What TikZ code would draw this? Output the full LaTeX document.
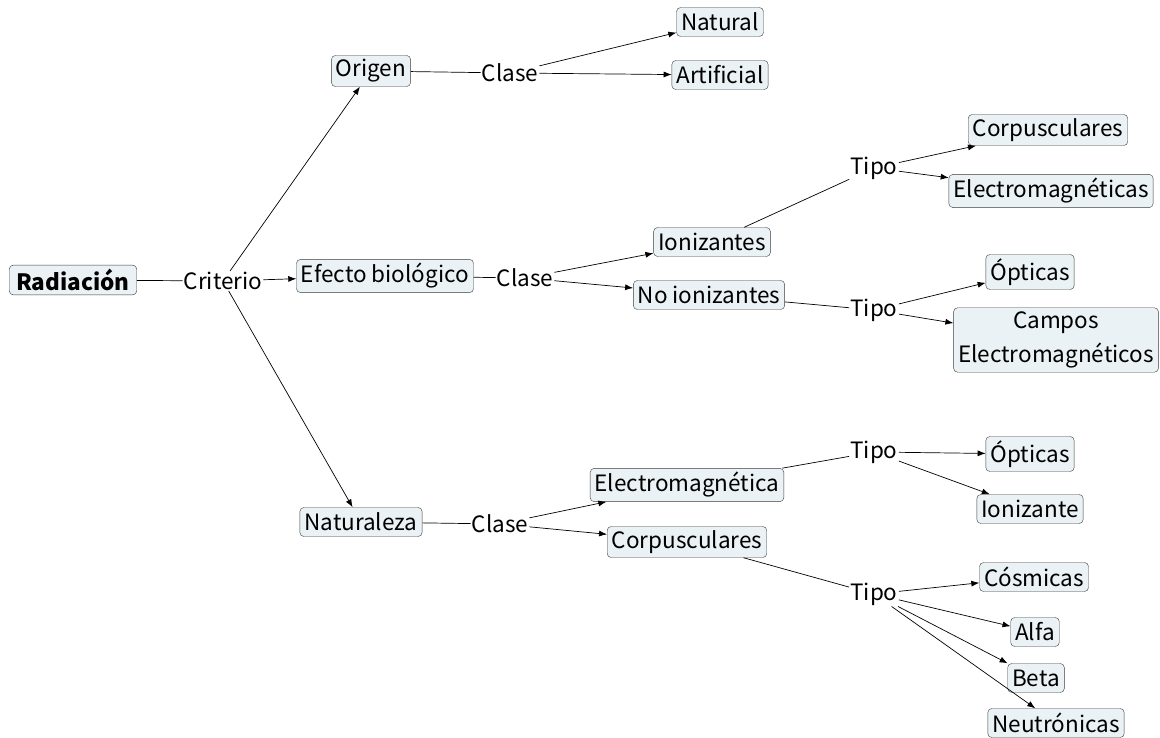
\documentclass[tikz,border=0pt]{standalone}
\usepackage{fontspec}
\setmainfont{Noto Sans CJK JP}
\usetikzlibrary{arrows.meta}

\definecolor{conceptfill}{HTML}{EBF2F5}
\definecolor{conceptline}{HTML}{3C3C3C}
\tikzset{
  concept/.style={draw=conceptline,fill=conceptfill,rounded corners=4pt,inner xsep=4.5pt,inner ysep=4pt,minimum height=29pt,font=\fontsize{22.5}{34}\selectfont,align=center},
  phrase/.style={inner sep=1pt,font=\fontsize{22.5}{34}\selectfont},
  link/.style={draw=black,line width=0.7pt},
  arrowlink/.style={link,-{Latex[length=8pt,width=6pt]}}
}

\begin{document}
\begin{tikzpicture}[x=1pt,y=-1pt]
    \useasboundingbox (0,0) rectangle (1160,738);
    \node[concept,inner xsep=7pt] (Rad) at (73,280) {\textbf{Radiación}};
    \node[phrase] (Crit) at (223,281) {Criterio};
    % origen
    \node[concept] (Ori) at (371,71) {Origen};
    \node[phrase] (C1) at (510,73) {Clase};
    \node[concept] (Nat) at (720,22) {Natural};
    \node[concept] (Art) at (720,75) {Artificial};
    % efecto biologico
    \node[concept] (Efe) at (385,276) {Efecto biológico};
    \node[phrase] (C2) at (525,278) {Clase};
    \node[concept] (Ion) at (712,242) {Ionizantes};
    \node[concept] (NoIon) at (709,295) {No ionizantes};
    \node[phrase] (T1) at (874,168) {Tipo};
    \node[concept] (Cor1) at (1048,130) {Corpusculares};
    \node[concept] (Ele1) at (1051,191) {Electromagnéticas};
    \node[phrase] (T2) at (874,310) {Tipo};
    \node[concept] (Opt1) at (1030,272) {Ópticas};
    \node[concept] (Cam) at (1056,340) {Campos\\Electromagnéticos};
    % naturaleza
    \node[concept] (Natu) at (361,522) {Naturaleza};
    \node[phrase] (C3) at (500,524) {Clase};
    \node[concept] (Ele2) at (687,485) {Electromagnética};
    \node[concept] (Cor2) at (687,542) {Corpusculares};
    \node[phrase] (T3) at (874,452) {Tipo};
    \node[concept] (Opt2) at (1030,454) {Ópticas};
    \node[concept] (Ioz) at (1030,509) {Ionizante};
    \node[phrase] (T4) at (874,594) {Tipo};
    \node[concept] (Cos) at (1034,577) {Cósmicas};
    \node[concept] (Alf) at (1035,632) {Alfa};
    \node[concept] (Bet) at (1036,678) {Beta};
    \node[concept] (Neu) at (1056,723) {Neutrónicas};

    \path[link] (Rad) edge (Crit);
    \path[arrowlink] (Crit) edge (Ori) (Crit) edge (Efe) (Crit) edge (Natu);
    \path[link] (Ori) edge (C1);
    \path[arrowlink] (C1) edge (Nat) (C1) edge (Art);
    \path[link] (Efe) edge (C2);
    \path[arrowlink] (C2) edge (Ion) (C2) edge (NoIon);
    \path[link] (Ion) edge (T1);
    \path[arrowlink] (T1) edge (Cor1) (T1) edge (Ele1);
    \path[link] (NoIon) edge (T2);
    \path[arrowlink] (T2) edge (Opt1) (T2) edge (Cam);
    \path[link] (Natu) edge (C3);
    \path[arrowlink] (C3) edge (Ele2) (C3) edge (Cor2);
    \path[link] (Ele2) edge (T3);
    \path[arrowlink] (T3) edge (Opt2) (T3) edge (Ioz);
    \path[link] (Cor2) edge (T4);
    \path[arrowlink] (T4) edge (Cos) (T4) edge (Alf) (T4) edge (Bet) (T4) edge (Neu);
\end{tikzpicture}
\end{document}
